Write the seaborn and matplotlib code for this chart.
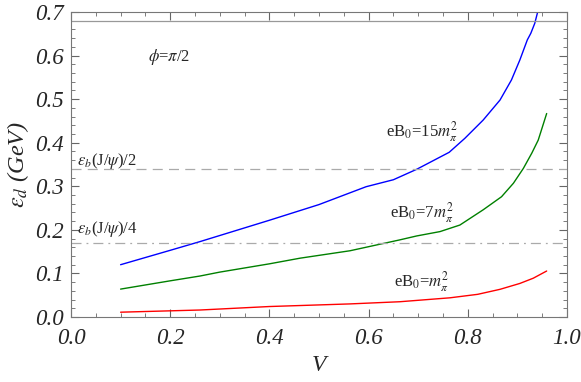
import numpy as np
import pandas as pd
import matplotlib
matplotlib.use("Agg")
import matplotlib.pyplot as plt
from matplotlib.ticker import MultipleLocator, FormatStrFormatter
import seaborn as sns

# curves
v_15 = [0.10, 0.20, 0.26, 0.30, 0.40, 0.50, 0.5625, 0.595, 0.65, 0.697, 0.7625, 0.794, 0.831, 0.865, 0.888, 0.905, 0.920, 0.927, 0.935, 0.942, 0.95]
e_15 = [0.120, 0.153, 0.173, 0.187, 0.222, 0.258, 0.285, 0.299, 0.315, 0.339, 0.378, 0.410, 0.452, 0.498, 0.544, 0.590, 0.636, 0.651, 0.674, 0.705, 0.73]

v_7 = [0.10, 0.20, 0.26, 0.30, 0.40, 0.462, 0.5625, 0.663, 0.697, 0.744, 0.784, 0.831, 0.868, 0.892, 0.912, 0.929, 0.942, 0.959]
e_7 = [0.064, 0.083, 0.094, 0.103, 0.122, 0.135, 0.152, 0.177, 0.186, 0.196, 0.211, 0.246, 0.276, 0.307, 0.341, 0.376, 0.406, 0.467]

v_1 = [0.10, 0.26, 0.40, 0.5625, 0.663, 0.764, 0.82, 0.865, 0.905, 0.932, 0.959]
e_1 = [0.011, 0.016, 0.024, 0.030, 0.035, 0.044, 0.052, 0.0635, 0.077, 0.089, 0.1055]

eb_full = 0.68
eb_half = 0.34
eb_quarter = 0.17

df = pd.concat([
    pd.DataFrame({"V": v_15, "E": e_15, "B": "15"}),
    pd.DataFrame({"V": v_7, "E": e_7, "B": "7"}),
    pd.DataFrame({"V": v_1, "E": e_1, "B": "1"}),
])

sns.set_style("ticks")
plt.rcParams["font.family"] = ["Liberation Serif", "DejaVu Serif"]
plt.rcParams["mathtext.fontset"] = "stix"

fig = plt.figure(figsize=(5.81, 3.82), dpi=100)
ax = fig.add_axes([0.1222, 0.1702, 0.8537, 0.7984])

sns.lineplot(data=df, x="V", y="E", hue="B", sort=False, estimator=None,
             palette={"15": "blue", "7": "green", "1": "red"},
             linewidth=1.0, legend=False, ax=ax)

ax.axhline(eb_full, color="#999999", lw=0.9)
ax.axhline(eb_half, color="#aaaaaa", lw=0.9, ls=(0, (8, 5)))
ax.axhline(eb_quarter, color="#aaaaaa", lw=0.9, ls=(0, (8, 4, 1.5, 4)))

ax.set_xlim(0, 1)
ax.set_ylim(0, 0.7)
ax.xaxis.set_major_locator(MultipleLocator(0.2))
ax.xaxis.set_minor_locator(MultipleLocator(0.05))
ax.yaxis.set_major_locator(MultipleLocator(0.1))
ax.yaxis.set_minor_locator(MultipleLocator(0.02))
ax.xaxis.set_major_formatter(FormatStrFormatter("%.1f"))
ax.yaxis.set_major_formatter(FormatStrFormatter("%.1f"))
ax.tick_params(which="both", direction="in", top=True, right=True, color="#666666")
ax.tick_params(which="major", length=6, width=0.8, labelsize=16.5)
ax.tick_params(axis="x", which="major", pad=8)
ax.tick_params(axis="y", which="major", pad=5)
ax.tick_params(which="minor", length=3, width=0.6)
for lab in ax.get_xticklabels() + ax.get_yticklabels():
    lab.set_fontstyle("italic")
for s in ax.spines.values():
    s.set_color("#777777")
    s.set_linewidth(0.8)

ax.set_xlabel("V", fontsize=17, fontstyle="italic", labelpad=4)
ax.set_ylabel(r"$\varepsilon_d$ (GeV)", fontsize=17.5, fontstyle="italic", labelpad=3)

ax.text(0.155, 0.597, r"$\phi$=$\pi$/2", fontsize=12, ha="left", va="center")
ax.text(0.012, 0.358, r"$\varepsilon_b$(J/$\psi$)/2", fontsize=12, ha="left", va="center")
ax.text(0.012, 0.202, r"$\varepsilon_b$(J/$\psi$)/4", fontsize=12, ha="left", va="center")
ax.text(0.708, 0.425, r"eB$_0$=15$m_\pi^2$", fontsize=12, ha="center", va="center")
ax.text(0.708, 0.239, r"eB$_0$=7$m_\pi^2$", fontsize=12, ha="center", va="center")
ax.text(0.707, 0.081, r"eB$_0$=$m_\pi^2$", fontsize=12, ha="center", va="center")

fig.savefig("out.png", dpi=100)
